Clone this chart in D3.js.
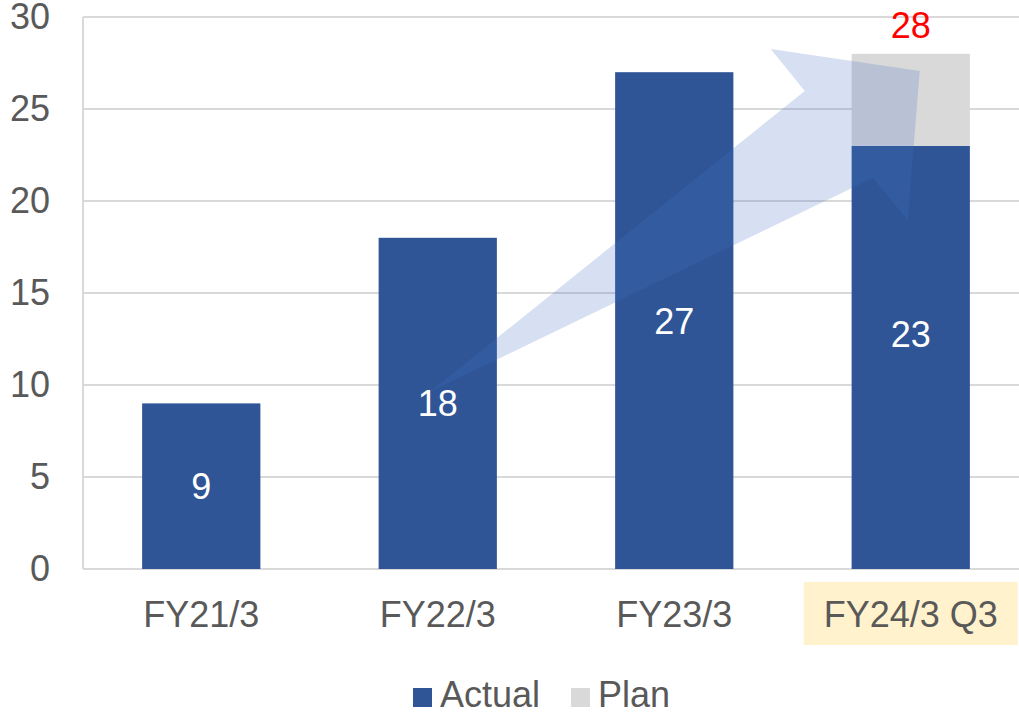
<!DOCTYPE html>
<html lang="en-US">
<head>
    <meta charset="utf-8">
    <script src="https://d3js.org/d3.v7.min.js"></script>
</head>
<body style="margin:0;background:#fff">
<style>
    svg text {
        font-family: "Liberation Sans", Arial, sans-serif;
        font-size: 36px;
        fill: #595959;
    }
</style>

<svg width="1019" height="715"></svg>

<script>
var categories = ["FY21/3", "FY22/3", "FY23/3", "FY24/3 Q3"];
var actual = [9, 18, 27, 23];
var plan = [0, 0, 0, 5];          // stacked on top of actual
var planTotal = [null, null, null, 28];
var yTicks = [0, 5, 10, 15, 20, 25, 30];

// growth arrow outline, as [category index, value]
var arrowPts = [[0.966, 9.62], [2.552, 25.98], [2.408, 28.26], [3.038, 27.07], [2.987, 18.97], [2.839, 21.25]];

var svg = d3.select("svg");
var plotLeft = 83, plotTop = 17, plotBottom = 569;

var x = d3.scaleBand().domain(categories).range([plotLeft, 1029]).paddingInner(0.5).paddingOuter(0.25);
var y = d3.scaleLinear().domain([0, 30]).range([plotBottom, plotTop]);
var xPos = i => x(categories[0]) + x.bandwidth() / 2 + i * x.step();

// gridlines
svg.append("g").selectAll("line")
    .data(yTicks)
    .enter().append("line")
    .attr("x1", plotLeft).attr("x2", 1019)
    .attr("y1", d => y(d)).attr("y2", d => y(d))
    .attr("stroke", "#d9d9d9").attr("stroke-width", 2);

svg.append("line")
    .attr("x1", plotLeft).attr("x2", plotLeft)
    .attr("y1", y(30)).attr("y2", y(0))
    .attr("stroke", "#d9d9d9").attr("stroke-width", 2);

// y axis labels
var yAxis = svg.append("g")
    .attr("transform", `translate(${plotLeft},0)`)
    .call(d3.axisLeft(y).tickValues(yTicks).tickSize(0).tickPadding(33));
yAxis.select(".domain").remove();
yAxis.attr("font-size", null).attr("font-family", null);
yAxis.selectAll("text").attr("fill", null);

// highlight behind the last category label
svg.append("rect")
    .attr("x", xPos(3) - 107).attr("y", 582)
    .attr("width", 214).attr("height", 63)
    .attr("fill", "#fff2cc");

var xAxis = svg.append("g")
    .attr("transform", `translate(0,${plotBottom})`)
    .call(d3.axisBottom(x).tickSize(0).tickPadding(32));
xAxis.select(".domain").remove();
xAxis.attr("font-size", null).attr("font-family", null);
xAxis.selectAll("text").attr("fill", null);

// bars
svg.append("g").selectAll("rect")
    .data(categories)
    .enter().append("rect")
    .attr("x", d => x(d))
    .attr("width", x.bandwidth())
    .attr("y", (d, i) => y(actual[i]))
    .attr("height", (d, i) => y(0) - y(actual[i]))
    .attr("fill", "#2f5597");

svg.append("g").selectAll("rect")
    .data(categories.filter((d, i) => plan[i] > 0))
    .enter().append("rect")
    .attr("x", d => x(d))
    .attr("width", x.bandwidth())
    .attr("y", d => { var i = categories.indexOf(d); return y(actual[i] + plan[i]); })
    .attr("height", d => { var i = categories.indexOf(d); return y(actual[i]) - y(actual[i] + plan[i]); })
    .attr("fill", "#d9d9d9");

// translucent growth arrow
svg.append("path")
    .attr("d", d3.line().x(p => xPos(p[0])).y(p => y(p[1]))(arrowPts) + "Z")
    .attr("fill", "#4472c4")
    .attr("fill-opacity", 0.22);

// value labels
svg.append("g").selectAll("text")
    .data(categories)
    .enter().append("text")
    .attr("x", d => x(d) + x.bandwidth() / 2)
    .attr("y", (d, i) => plan[i] > 0 ? y((actual[i] + planTotal[i]) / 4) : y(actual[i] / 2))
    .attr("dy", "0.36em")
    .attr("text-anchor", "middle")
    .style("fill", "#fff")
    .text((d, i) => actual[i]);

svg.append("g").selectAll("text")
    .data(categories.filter((d, i) => planTotal[i] != null))
    .enter().append("text")
    .attr("x", d => x(d) + x.bandwidth() / 2)
    .attr("y", d => y(planTotal[categories.indexOf(d)]) - 16)
    .attr("text-anchor", "middle")
    .style("fill", "#ff0000")
    .text(d => planTotal[categories.indexOf(d)]);

// legend
var legend = [["Actual", "#2f5597", 413], ["Plan", "#d9d9d9", 571]];
var lg = svg.append("g").selectAll("g")
    .data(legend)
    .enter().append("g")
    .attr("transform", d => `translate(${d[2]},688)`);
lg.append("rect").attr("width", 19).attr("height", 19).attr("fill", d => d[1]);
lg.append("text").attr("x", 27).attr("y", 19).text(d => d[0]);
</script>
</body>
</html>
